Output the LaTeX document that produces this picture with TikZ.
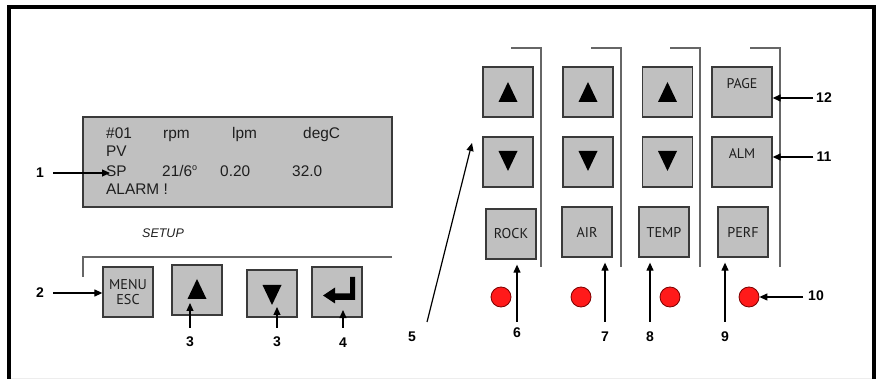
\documentclass[tikz,border=0pt]{standalone}
\usepackage{fontspec}
\setmainfont{Liberation Sans}
\newfontfamily\keyfont{PT Sans}
\usetikzlibrary{arrows.meta,calc}
\definecolor{keygray}{HTML}{C0C0C0}
\definecolor{keyedge}{HTML}{3A3A3A}
\definecolor{railgray}{HTML}{666666}
\definecolor{ledred}{HTML}{FF1A1A}
\definecolor{ledrim}{HTML}{7A0000}
\definecolor{ink}{HTML}{1E1E1E}

\begin{document}
\begin{tikzpicture}[x=1pt,y=-1pt,
  key/.style={draw=keyedge, fill=keygray, line width=1.3pt, minimum width=50pt,
    minimum height=50pt, inner sep=0pt, text=ink, align=center,
    font=\keyfont\fontsize{14.2}{15}\selectfont},
  keytext/.style={inner sep=0pt, text=ink, font=\keyfont\fontsize{14}{15}\selectfont},
  lcdtext/.style={anchor=base west, inner sep=0pt, text=ink,
    font=\fontsize{15.4}{18}\selectfont},
  num/.style={inner sep=0pt, font=\bfseries\fontsize{14}{16}\selectfont},
  conn/.style={line width=1.2pt, -{Triangle[length=8pt,width=7pt]}},
  rail/.style={draw=railgray, line width=1.4pt},
  led/.style={circle, draw=ledrim, fill=ledred, line width=0.8pt, minimum size=20pt,
    inner sep=0pt},
  uptri/.pic={\fill[black] (-9.5,10) -- (9.5,10) -- (0,-10) -- cycle;},
  dntri/.pic={\fill[black] (-9.5,-10) -- (9.5,-10) -- (0,10) -- cycle;},
  enterglyph/.pic={\fill[black] (18,-15) -- (18,8) -- (-2,8) -- (-2,11.5) -- (-14,3.5)
    -- (-2,-4.5) -- (-2,1.5) -- (13,1.5) -- (13,-15) -- cycle;},
]
\useasboundingbox (0,0) rectangle (878,379);

% outer frame
\draw[line width=3.6pt] (9,379) -- (9,7) -- (874,7) -- (874,379);
\draw[draw=black!7, line width=1pt] (11,378) -- (872,378);

% display
\node[draw=keyedge, fill=keygray, line width=1.3pt, minimum width=309pt,
  minimum height=90pt, inner sep=0pt] (lcd) at (237.5,162) {};
\node[lcdtext] (t01) at (106,139) {\#01};
\node[lcdtext] (trpm) at (163,139) {rpm};
\node[lcdtext] (tlpm) at (232,139) {lpm};
\node[lcdtext] (tdeg) at (303,139) {degC};
\node[lcdtext] (tpv) at (106,157) {PV};
\node[lcdtext] (sp) at (106,177) {SP};
\node[lcdtext] (tsp1) at (162,177) {21/6\raisebox{0.42em}{\fontsize{9}{9}\selectfont o}};
\node[lcdtext] (tsp2) at (220,177) {0.20};
\node[lcdtext] (tsp3) at (292,177) {32.0};
\node[lcdtext] (talarm) at (106,195) {ALARM !};

% setup keys
\node[inner sep=0pt, text=ink, font=\itshape\fontsize{12.5}{15}\selectfont] (setup) at (163,233) {SETUP};
\draw[rail] (392,257) -- (83,257) -- (83,277);
\node[key] (menu) at (128,292) {MENU\\ESC};
\node[key] (sup) at (197,290) {};
\node[key, minimum height=47pt] (sdn) at (272,293.5) {};
\node[key] (ent) at (337,292) {};
\pic at ($(sup.center)+(0,-1)$) {uptri};
\pic at ($(sdn.center)+(0,1.5)$) {dntri};
\pic at (ent.center) {enterglyph};

% channel keys
\draw[rail] (511,48) -- (541,48) -- (541,267);
\draw[rail] (591,48) -- (621,48) -- (621,267);
\draw[rail] (670,48) -- (700,48) -- (700,267);
\draw[rail] (750,48) -- (780,48) -- (780,267);

\node[key] (u1) at (508,92) {};
\node[key] (u2) at (588,92) {};
\node[key] (u3) at (667.5,92) {};
\node[key, minimum width=60pt] (page) at (742,92) {};
\node[key] (d1) at (508,162) {};
\node[key] (d2) at (588,162) {};
\node[key] (d3) at (667.5,162) {};
\node[key, minimum width=60pt] (alm) at (742,162) {};
\node[keytext] (pagetxt) at ($(page.center)+(0,-8.5)$) {PAGE};
\node[keytext] (almtxt) at ($(alm.center)+(0,-8)$) {ALM};
\foreach \k in {u1,u2,u3} {\pic at (\k.center) {uptri};}
\foreach \k in {d1,d2,d3} {\pic at ($(\k.center)+(0,-1)$) {dntri};}

\node[key] (rock) at (511,234) {ROCK};
\node[key] (air) at (587,232) {AIR};
\node[key] (temp) at (664,232) {TEMP};
\node[key] (perf) at (743,232) {PERF};

\node[led] (led1) at (501,297) {};
\node[led] (led2) at (581,297) {};
\node[led] (led3) at (670,297) {};
\node[led] (led4) at (749,297) {};

% callout numbers
\node[num] (l1) at (40,173) {1};
\node[num] (l2) at (40,293) {2};
\node[num] (l3a) at (190,342) {3};
\node[num] (l3b) at (277,342) {3};
\node[num] (l4) at (343,343) {4};
\node[num] (l5) at (412,337) {5};
\node[num] (l6) at (517,333) {6};
\node[num] (l7) at (605,337) {7};
\node[num] (l8) at (650,337) {8};
\node[num] (l9) at (725,337) {9};
\node[num] (l10) at (816,296) {10};
\node[num] (l11) at (824,157) {11};
\node[num] (l12) at (824,98) {12};

\coordinate (tipA) at ($(sup.center)+(0,13)$);
\coordinate (tipB) at ($(sdn.center)+(0,13.5)$);
\coordinate (tipC) at ($(ent.center)+(0,18)$);
\coordinate (foot5) at (427,322);
\coordinate (tip5) at (472,143);

% callout arrows
\draw[conn, shorten <=9pt] (l1.east) -- ($(l1.east -| sp.west)+(4,0)$);
\draw[conn, shorten <=9pt] (l2.east) -- (l2.east -| menu.west);
\draw[conn, shorten <=9pt] (l3a.north) -- (l3a.north |- tipA);
\draw[conn, shorten <=9pt] (l3b.north) -- (l3b.north |- tipB);
\draw[conn, shorten <=10pt] (l4.north) -- (l4.north |- tipC);
\draw[conn] (foot5) -- (tip5);
\draw[conn, shorten <=6pt, shorten >=5pt] (l6.north) -- (l6.north |- rock.south);
\draw[conn, shorten <=10pt, shorten >=5pt] (l7.north) -- (l7.north |- air.south);
\draw[conn, shorten <=10pt, shorten >=5pt] (l8.north) -- (l8.north |- temp.south);
\draw[conn, shorten <=10pt, shorten >=5pt] (l9.north) -- (l9.north |- perf.south);
\draw[conn, shorten <=5pt] (led4.east -| l10.west) -- (led4.east);
\draw[conn, shorten <=3pt] (l11.west) -- (l11.west -| alm.east);
\draw[conn, shorten <=3pt] (l12.west) -- (l12.west -| page.east);
\end{tikzpicture}
\end{document}
